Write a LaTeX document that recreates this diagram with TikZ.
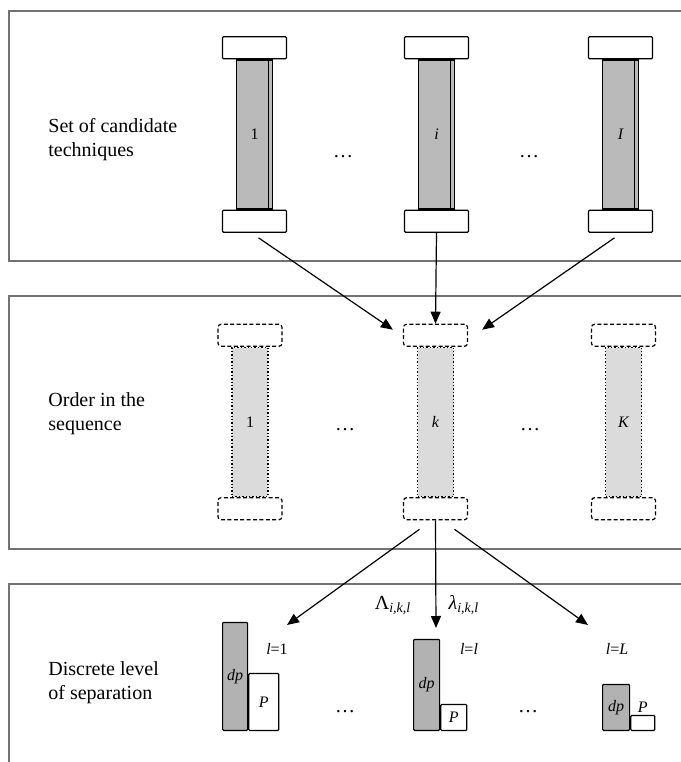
\documentclass[tikz,border=0pt]{standalone}
\usepackage{fontspec}
\setmainfont{Liberation Serif}
\usetikzlibrary{arrows.meta,positioning}
\tikzset{
    panel/.style={draw=black!55, line width=1pt},
    rod/.style={draw, line width=0.6pt, fill=black!27, minimum width=18pt,
                minimum height=74.5pt, inner sep=0pt, font=\fontsize{8}{9}\selectfont},
    rodedge/.style={path picture={\draw[line width=0.4pt]
                ([xshift=-2pt]path picture bounding box.north east) --
                ([xshift=-2pt]path picture bounding box.south east);}},
    endbox/.style={draw, line width=0.6pt, fill=white, minimum width=32pt,
                minimum height=11pt, inner sep=0pt, rounded corners=0.5pt},
    slot/.style={rod, fill=black!14, dash pattern=on 0.7pt off 1pt},
    slotend/.style={endbox, dash pattern=on 2pt off 1.2pt, rounded corners=1.5pt},
    flow/.style={-{Triangle[length=6pt,width=5pt]}, line width=0.6pt},
    note/.style={font=\fontsize{10}{12}\selectfont, align=left, anchor=west, inner sep=0pt},
    tag/.style={font=\fontsize{8}{9}\selectfont\itshape, inner sep=0pt},
    bar/.style={draw, line width=0.6pt, fill=black!30, anchor=south west,
                inner sep=0pt, rounded corners=0.5pt, font=\fontsize{8}{9}\selectfont\itshape},
    pbox/.style={bar, fill=white},
}

\begin{document}
\begin{tikzpicture}[x=0.5pt, y=-0.5pt]
    \useasboundingbox (0,0) rectangle (681,762);

    % panels
    \draw[panel] (690,11) -- (8.5,11) -- (8.5,261) -- (690,261);
    \draw[panel] (690,296) -- (8.5,296) -- (8.5,549) -- (690,549);
    \draw[panel] (690,584) -- (8.5,584) -- (8.5,770);

    \node[note] (setlabel) at (48,140) {Set of candidate\\techniques};
    \node[note] (orderlabel) at (48,414) {Order in the\\sequence};
    \node[note] (levellabel) at (48,683) {Discrete level\\of separation};

    % candidate techniques
    \node[rod, rodedge] (rodA) at (254.5,134.5) {1};
    \node[endbox, above=0pt of rodA] (capAt) {};
    \node[endbox, below=0pt of rodA] (capAb) {};
    \node[rod, rodedge] (rodI) at (436.5,134.5) {\itshape i};
    \node[endbox, above=0pt of rodI] (capIt) {};
    \node[endbox, below=0pt of rodI] (capIb) {};
    \node[rod, rodedge] (rodN) at (620.5,134.5) {\itshape I};
    \node[endbox, above=0pt of rodN] (capNt) {};
    \node[endbox, below=0pt of rodN] (capNb) {};
    \node (dotsA) at (343,157) {\dots};
    \node (dotsB) at (529,157) {\dots};

    % positions in the sequence
    \node[slot] (slotA) at (250,422) {1};
    \node[slotend, above=0pt of slotA] (slotAt) {};
    \node[slotend, below=0pt of slotA] (slotAb) {};
    \node[slot] (slotK) at (435.5,422) {\itshape k};
    \node[slotend, above=0pt of slotK] (slotKt) {};
    \node[slotend, below=0pt of slotK] (slotKb) {};
    \node[slot] (slotN) at (623.5,422) {\itshape K};
    \node[slotend, above=0pt of slotN] (slotNt) {};
    \node[slotend, below=0pt of slotN] (slotNb) {};
    \node (dotsC) at (345,430) {\dots};
    \node (dotsD) at (530,430) {\dots};

    \draw[flow] ([xshift=2pt,yshift=-2.5pt]capAb.south) -- ([shift={(-5pt,-3pt)}]slotKt.north west);
    \draw[flow] (capIb.south) -- (slotKt.north);
    \draw[flow] ([xshift=-3pt,yshift=-2.5pt]capNb.south) -- ([shift={(7pt,-3pt)}]slotKt.north east);

    % levels of separation
    \node[bar, minimum width=12.5pt, minimum height=54pt] (dpA) at (222,731) {dp};
    \node[pbox, minimum width=15pt, minimum height=28.5pt] (pA) at (dpA.south east) {P};
    \node[tag] (lvA) at (277,649) {l\upshape =1};
    \node[bar, minimum width=13pt, minimum height=45.5pt] (dpL) at (413,731) {dp};
    \node[pbox, minimum width=13pt, minimum height=13pt] (pL) at (dpL.south east) {P};
    \node[tag] (lvL) at (469,649) {l\upshape =\itshape l};
    \node[bar, minimum width=13.5pt, minimum height=23pt] (dpN) at (602,731) {dp};
    \node[pbox, minimum width=12pt, minimum height=7.5pt] (pN) at (dpN.south east) {};
    \node[tag, above=1pt of pN] (pNlabel) {P};
    \node[tag] (lvN) at (617,649) {l\upshape =\itshape L};
    \node (dotsE) at (345,712) {\dots};
    \node (dotsF) at (528,712) {\dots};

    \coordinate (tipA) at (287,625);
    \coordinate (tipL) at (436,628);
    \coordinate (tipN) at (588,625);
    \draw[flow] ([xshift=-8pt,yshift=-4.5pt]slotKb.south) -- (tipA);
    \draw[flow] (slotKb.south) -- (tipL);
    \draw[flow] ([xshift=9.5pt,yshift=-4.5pt]slotKb.south) -- (tipN);
    \node (bigl) at (393,605) {Λ\textsubscript{\itshape i,k,l}};
    \node (smalll) at (464,605) {\itshape λ\textsubscript{i,k,l}};
\end{tikzpicture}
\end{document}
